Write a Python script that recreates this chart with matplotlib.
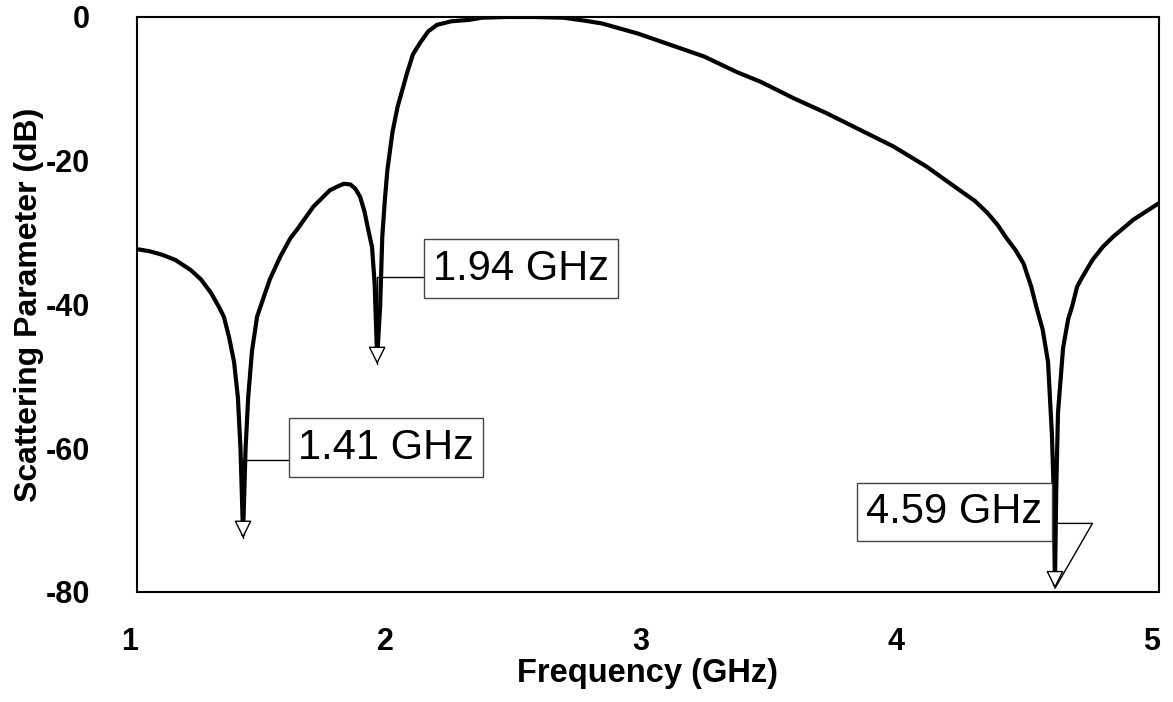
import matplotlib.pyplot as plt
import matplotlib.transforms as mtransforms

plt.rcParams['font.family'] = ['Liberation Sans', 'DejaVu Sans']
plt.rcParams['axes.unicode_minus'] = False

# curve (GHz, dB)
freq = [1.00, 1.05, 1.10, 1.15, 1.21, 1.25, 1.29, 1.32, 1.34, 1.36,
        1.38, 1.395, 1.405, 1.415, 1.425, 1.435, 1.45, 1.47, 1.49, 1.52,
        1.56, 1.60, 1.63, 1.69, 1.755, 1.79, 1.81, 1.835, 1.855, 1.873,
        1.89, 1.905, 1.92, 1.93, 1.94, 1.952, 1.96, 1.97, 1.98, 2.00,
        2.02, 2.057, 2.08, 2.108, 2.14, 2.174, 2.23, 2.30, 2.35, 2.45,
        2.55, 2.67, 2.75, 2.82, 2.90, 2.96, 3.09, 3.22, 3.35, 3.44,
        3.48, 3.57, 3.70, 3.83, 3.96, 4.09, 4.22, 4.28, 4.33, 4.37,
        4.40, 4.44, 4.47, 4.50, 4.52, 4.545, 4.566, 4.581, 4.588, 4.593,
        4.598, 4.605, 4.625, 4.645, 4.66, 4.68, 4.70, 4.74, 4.78, 4.82,
        4.90, 5.00]
s_db = [-32.3, -32.6, -33.1, -33.8, -35.2, -36.5, -38.4, -40.3, -41.7, -44.5,
        -48.0, -53.0, -60.0, -72.0, -60.0, -53.0, -46.5, -41.7, -39.6, -36.5,
        -33.4, -30.8, -29.4, -26.4, -24.1, -23.5, -23.2, -23.3, -23.9, -25.0,
        -27.0, -29.6, -32.0, -37.0, -47.5, -40.0, -30.6, -25.5, -21.3, -16.0,
        -12.5, -7.8, -5.2, -3.6, -2.0, -1.1, -0.6, -0.4, -0.1, 0.0,
        0.0, -0.1, -0.5, -0.9, -1.7, -2.3, -3.9, -5.5, -7.7, -9.0,
        -9.7, -11.3, -13.4, -15.7, -18.0, -20.8, -24.1, -25.6, -27.3, -29.0,
        -30.6, -32.5, -34.3, -37.5, -40.3, -43.5, -48.0, -58.0, -66.0, -79.0,
        -66.0, -55.0, -46.0, -42.0, -40.3, -37.5, -36.2, -33.8, -32.0, -30.6,
        -28.2, -25.9]

# markers: label, tip, text centre, relpos of leader on the box, leader angle at tip
labels = ['1.41 GHz', '1.94 GHz', '4.59 GHz']
tips = [(1.415, -72.5), (1.94, -48.3), (4.593, -79.5)]
text_pos = [(1.975, -59.9), (2.503, -35.0), (4.20, -68.9)]
relpos = [(0, 0.18), (0, 0.30), (1, 0.22)]
tip_angle = [90, 90, 60]

fig = plt.figure(figsize=(11.73, 7.02), dpi=100)
ax = fig.add_axes([0.1168, 0.1567, 0.988 - 0.1168, 0.9758 - 0.1567])

ax.plot(freq, s_db, color='black', lw=3.0, zorder=3)

for lab, tip, tp, rp, ang in zip(labels, tips, text_pos, relpos, tip_angle):
    # callout box and leader line
    ax.annotate(lab, xy=tip, xytext=tp, fontsize=30, ha='center', va='center',
                bbox=dict(boxstyle='square,pad=0.22', fc='white', ec='#444444', lw=1.0),
                arrowprops=dict(arrowstyle='-', color='black', lw=1.0,
                                shrinkA=0, shrinkB=0, relpos=rp,
                                connectionstyle=f'angle,angleA=0,angleB={ang},rad=0'),
                zorder=4)
    # open arrow head pointing down onto the dip
    ax.annotate('', xy=tip, xytext=(tip[0], tip[1] + 2.0),
                arrowprops=dict(arrowstyle='-|>,head_length=1.1,head_width=0.55',
                                mutation_scale=10, fc='white', ec='black', lw=1.0,
                                shrinkA=0, shrinkB=0),
                zorder=5)

ax.set_xlim(1, 5)
ax.set_ylim(-80, 0)
ax.set_xticks([1, 2, 3, 4, 5])
ax.set_yticks([0, -20, -40, -60, -80])
ax.tick_params(length=0, labelsize=22)
ax.tick_params(axis='x', pad=25)
ax.tick_params(axis='y', pad=34)
for t in ax.get_xticklabels() + ax.get_yticklabels():
    t.set_fontweight('bold')
off = mtransforms.ScaledTranslation(-7 / 100, 0, fig.dpi_scale_trans)
for t in ax.get_xticklabels():
    t.set_transform(t.get_transform() + off)

ax.set_xlabel('Frequency (GHz)', fontsize=23.5, fontweight='bold', labelpad=1)
ax.set_ylabel('Scattering Parameter (dB)', fontsize=23, fontweight='bold', labelpad=1)

for sp in ax.spines.values():
    sp.set_linewidth(1.5)

fig.savefig('out.png', dpi=100)
